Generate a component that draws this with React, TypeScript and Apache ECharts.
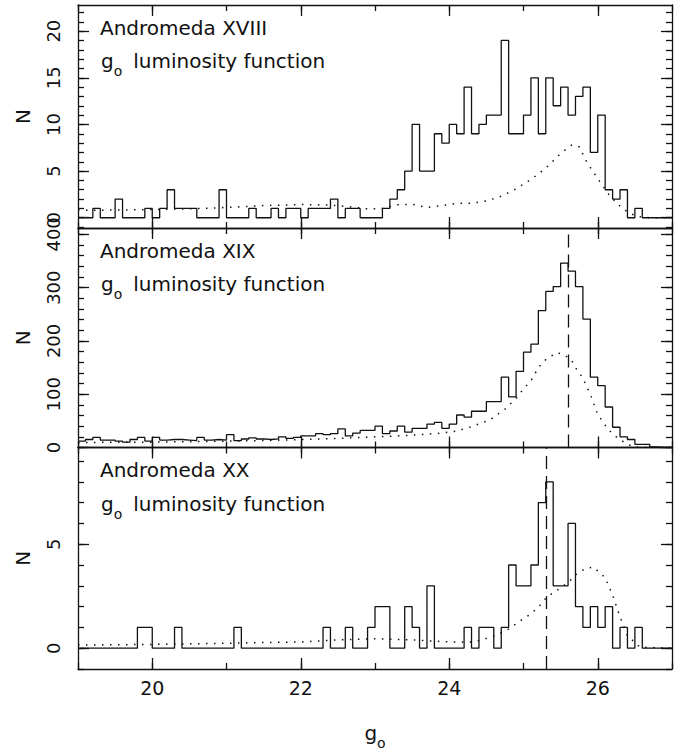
import { useEffect, useRef } from 'react';
import * as echarts from 'echarts';

// Magnitude range and histogram binning
const MAG_MIN = 19;
const MAG_MAX = 27;
const BIN_WIDTH = 0.1;

// Star counts per 0.1 mag bin, starting at g0 = 19.0
const XVIII_COUNTS = [
  0, 0, 1, 0, 0, 2, 0, 0, 0, 1,
  0, 1, 3, 1, 1, 1, 0, 0, 0, 3,
  0, 0, 0, 1, 0, 0, 1, 0, 1, 1,
  0, 1, 1, 1, 2, 0, 1, 1, 0, 0,
  0, 1, 2, 3, 5, 10, 5, 5, 9, 8,
  10, 9, 14, 9, 10, 11, 11, 19, 9, 9,
  11, 15, 9, 15, 12, 14, 11, 13, 14, 7,
  11, 3, 2, 3, 0, 1, 0, 0, 0, 0,
];

const XIX_COUNTS = [
  12, 15, 19, 14, 14, 12, 10, 15, 19, 12,
  19, 14, 15, 15, 14, 13, 19, 14, 15, 14,
  24, 13, 16, 18, 16, 15, 16, 20, 17, 19,
  22, 22, 26, 24, 26, 35, 22, 27, 32, 32,
  40, 26, 31, 40, 29, 36, 36, 44, 47, 36,
  44, 61, 57, 68, 68, 86, 86, 132, 95, 143,
  179, 194, 257, 293, 302, 346, 331, 302, 241, 132,
  116, 76, 38, 20, 15, 6, 6, 1, 0, 0,
];

const XX_COUNTS = [
  0, 0, 0, 0, 0, 0, 0, 0, 1, 1,
  0, 0, 0, 1, 0, 0, 0, 0, 0, 0,
  0, 1, 0, 0, 0, 0, 0, 0, 0, 0,
  0, 0, 0, 1, 0, 0, 1, 0, 0, 1,
  2, 2, 0, 0, 2, 1, 0, 3, 0, 0,
  0, 0, 1, 0, 1, 1, 0, 1, 4, 3,
  3, 4, 7, 8, 3, 3, 6, 2, 1, 2,
  1, 2, 0, 1, 0, 1, 0, 0, 0, 0,
];

// Model luminosity functions (dotted curves)
const XVIII_MODEL_MAG = [19.0, 19.5, 20.0, 20.5, 21.0, 21.5, 22.0, 22.4, 22.7, 22.9, 23.1, 23.3, 23.5, 23.7, 23.9, 24.1, 24.3, 24.5, 24.7, 24.9, 25.1, 25.3, 25.5, 25.65, 25.75, 25.85, 25.95, 26.05, 26.15, 26.25, 26.35, 26.45, 26.55, 26.7, 27.0];
const XVIII_MODEL_N = [0.8, 0.82, 0.88, 0.95, 1.1, 1.3, 1.42, 1.35, 1.15, 0.95, 1.0, 1.4, 1.45, 1.1, 1.3, 1.55, 1.55, 1.8, 2.3, 3.1, 4.1, 5.3, 6.9, 7.8, 7.6, 6.0, 4.8, 3.6, 2.5, 1.6, 0.9, 0.4, 0.12, 0, 0];

const XIX_MODEL_MAG = [19.0, 19.5, 20.0, 20.5, 21.0, 21.5, 22.0, 22.5, 23.0, 23.5, 23.9, 24.1, 24.3, 24.55, 24.75, 24.9, 25.0, 25.1, 25.2, 25.3, 25.45, 25.55, 25.65, 25.7, 25.8, 25.9, 26.0, 26.1, 26.2, 26.3, 26.4, 26.5, 26.6, 27.0];
const XIX_MODEL_N = [9, 10, 10, 11, 12, 13, 15, 17, 20, 23, 27, 31, 39, 52, 72, 92, 110, 125, 150, 165, 178, 174, 163, 150, 130, 100, 62, 42, 25, 15, 6, 1, 0, 0];

const XX_MODEL_MAG = [19.0, 20.0, 21.0, 22.0, 22.5, 23.0, 23.5, 24.0, 24.3, 24.45, 24.6, 24.77, 24.95, 25.1, 25.22, 25.31, 25.5, 25.63, 25.72, 25.85, 25.94, 26.1, 26.21, 26.3, 26.4, 26.57, 27.0];
const XX_MODEL_N = [0.15, 0.18, 0.24, 0.3, 0.4, 0.45, 0.4, 0.3, 0.3, 0.4, 0.6, 0.85, 1.3, 1.65, 2.05, 2.45, 2.9, 3.25, 3.6, 3.85, 3.9, 3.4, 2.45, 1.5, 0.6, 0.05, 0];

// Dashed reference magnitudes
const XIX_MARKER = 25.6;
const XX_MARKER = 25.3;

// Axis tick values
const X_MAJOR_TICKS = [20, 22, 24, 26];
const X_MINOR_TICKS = [19, 20, 21, 22, 23, 24, 25, 26, 27];
const XVIII_Y_TICKS = [0, 5, 10, 15, 20];
const XIX_Y_TICKS = [0, 100, 200, 300, 400];
const XX_Y_TICKS = [0, 5];

const TITLE_XVIII = 'Andromeda XVIII';
const TITLE_XIX = 'Andromeda XIX';
const TITLE_XX = 'Andromeda XX';

const FONT = '"DejaVu Sans", sans-serif';
const WEIGHT = 'normal';
const INK = '#111';

function range(start: number, stop: number, step: number): number[] {
  const out: number[] = [];
  for (let v = start; v <= stop + 1e-9; v += step) out.push(Math.round(v * 1000) / 1000);
  return out;
}

function stepData(counts: number[]): number[][] {
  const pts = counts.map((c, i) => [Math.round((MAG_MIN + i * BIN_WIDTH) * 100) / 100, c]);
  pts.push([MAG_MAX, counts[counts.length - 1]]);
  return pts;
}

function pairs(xs: number[], ys: number[]): number[][] {
  return xs.map((x, i) => [x, ys[i]]);
}

const PANELS = [
  {
    title: TITLE_XVIII, counts: XVIII_COUNTS, modelMag: XVIII_MODEL_MAG, modelN: XVIII_MODEL_N,
    marker: null as number | null, yMin: -1.1, yMax: 22.8, yMajor: XVIII_Y_TICKS, yMinor: range(-1, 22, 1),
    top: 5, height: 223,
  },
  {
    title: TITLE_XIX, counts: XIX_COUNTS, modelMag: XIX_MODEL_MAG, modelN: XIX_MODEL_N,
    marker: XIX_MARKER as number | null, yMin: 0, yMax: 412, yMajor: XIX_Y_TICKS, yMinor: range(0, 400, 20),
    top: 228, height: 219.5,
  },
  {
    title: TITLE_XX, counts: XX_COUNTS, modelMag: XX_MODEL_MAG, modelN: XX_MODEL_N,
    marker: XX_MARKER as number | null, yMin: -1, yMax: 9.65, yMajor: XX_Y_TICKS, yMinor: range(-1, 9, 1),
    top: 447.5, height: 221.5,
  },
];

const lineStyle = { color: INK, width: 1.3 };
const textBase = { color: INK, fontFamily: FONT, fontWeight: WEIGHT };

function buildXAxes(g: number, showLabels: boolean) {
  const base = {
    gridIndex: g, type: 'value', min: MAG_MIN, max: MAG_MAX,
    splitLine: { show: false }, silent: true,
  };
  const major = (position: string, labels: boolean) => ({
    ...base, position,
    axisLine: { show: true, onZero: false, lineStyle },
    axisTick: { show: true, inside: true, length: 11, customValues: X_MAJOR_TICKS, lineStyle },
    axisLabel: { show: labels, customValues: X_MAJOR_TICKS, margin: 9, fontSize: 19, ...textBase },
  });
  const minor = (position: string) => ({
    ...base, position,
    axisLine: { show: false, onZero: false },
    axisTick: { show: true, inside: true, length: 6, customValues: X_MINOR_TICKS, lineStyle },
    axisLabel: { show: false },
  });
  return [major('bottom', showLabels), minor('bottom'), major('top', false), minor('top')];
}

function buildYAxes(g: number, p: (typeof PANELS)[number]) {
  const base = {
    gridIndex: g, type: 'value', min: p.yMin, max: p.yMax,
    splitLine: { show: false }, silent: true,
  };
  const major = (position: string, labels: boolean) => ({
    ...base, position,
    name: labels ? 'N' : '',
    nameLocation: 'middle', nameRotate: 90, nameGap: 45,
    nameTextStyle: { fontSize: 20, ...textBase },
    axisLine: { show: true, onZero: false, lineStyle },
    axisTick: { show: true, inside: true, length: 11, customValues: p.yMajor, lineStyle },
    axisLabel: { show: labels, customValues: p.yMajor, rotate: 90, margin: 16, fontSize: 18, ...textBase },
  });
  const minor = (position: string) => ({
    ...base, position,
    axisLine: { show: false, onZero: false },
    axisTick: { show: true, inside: true, length: 6, customValues: p.yMinor, lineStyle },
    axisLabel: { show: false },
  });
  return [major('left', true), minor('left'), major('right', false), minor('right')];
}

const richLabel = {
  g: { fontSize: 20, fontFamily: FONT, fontWeight: WEIGHT, fill: INK },
  s: { fontSize: 14, fontFamily: FONT, fontWeight: WEIGHT, fill: INK, padding: [20, 0, 0, 0] },
  t: { fontSize: 20, fontFamily: FONT, fontWeight: WEIGHT, fill: INK, padding: [0, 0, 0, 11] },
};

export default function App() {
  const ref = useRef<HTMLDivElement>(null);

  useEffect(() => {
    if (!ref.current) return;
    const chart = echarts.init(ref.current, null, { renderer: 'svg' });

    const grids = PANELS.map((p) => ({ left: 78, right: 11, top: p.top, height: p.height }));
    const xAxis = PANELS.flatMap((_, g) => buildXAxes(g, g === PANELS.length - 1));
    const yAxis = PANELS.flatMap((p, g) => buildYAxes(g, p));

    const series: any[] = [];
    PANELS.forEach((p, g) => {
      series.push({
        type: 'line', xAxisIndex: g * 4, yAxisIndex: g * 4,
        data: stepData(p.counts), step: 'end', showSymbol: false, silent: true,
        lineStyle: { color: INK, width: 1.3 }, z: 3,
        markLine: p.marker === null ? undefined : {
          silent: true, symbol: 'none', label: { show: false },
          lineStyle: { color: INK, width: 1.3, type: [13, 7] },
          data: [{ xAxis: p.marker }],
        },
      });
      series.push({
        type: 'line', xAxisIndex: g * 4, yAxisIndex: g * 4,
        data: pairs(p.modelMag, p.modelN), showSymbol: false, silent: true,
        lineStyle: { color: INK, width: 1.5, type: [1.5, 6.5] }, z: 2,
      });
    });

    const graphic: any[] = [];
    PANELS.forEach((p) => {
      graphic.push({
        type: 'text', x: 100, y: p.top + 22.5, silent: true,
        style: { text: p.title, fontSize: 20, fontFamily: FONT, fontWeight: WEIGHT, fill: INK, verticalAlign: 'middle' },
      });
      graphic.push({
        type: 'text', x: 101, y: p.top + 56, silent: true,
        style: {
          text: '{g|g}{s|o}{t|luminosity function}', rich: richLabel,
          fontSize: 20, fontFamily: FONT, fontWeight: WEIGHT, fill: INK, verticalAlign: 'middle',
        },
      });
    });
    graphic.push({
      type: 'text', x: 375, y: 733, silent: true,
      style: {
        text: '{g|g}{s|o}', rich: richLabel, align: 'center',
        fontSize: 20, fontFamily: FONT, fontWeight: WEIGHT, fill: INK, verticalAlign: 'middle',
      },
    });

    chart.setOption({
      animation: false,
      backgroundColor: '#fff',
      grid: grids,
      xAxis,
      yAxis,
      series,
      graphic,
    });

    return () => chart.dispose();
  }, []);

  return (
    <div
      ref={ref}
      style={{ position: 'absolute', left: 0, top: 0, width: 683, height: 750 }}
    />
  );
}
